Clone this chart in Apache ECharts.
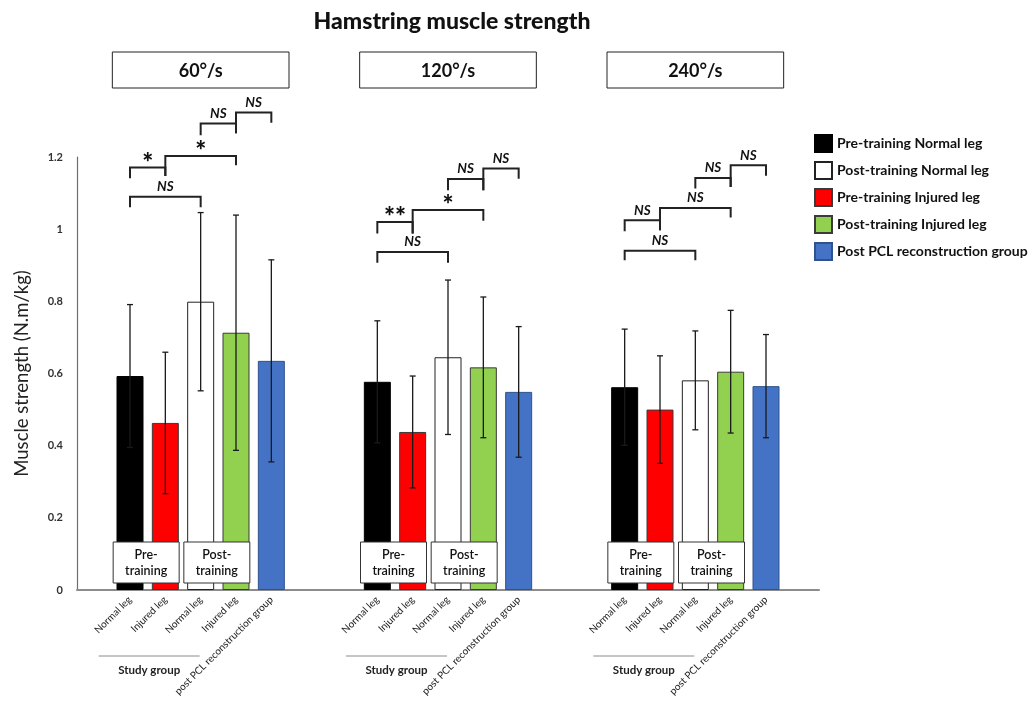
<!DOCTYPE html>
<html><head><meta charset="utf-8">
<script src="https://cdn.jsdelivr.net/npm/echarts@6/dist/echarts.min.js"></script>
<style>html,body{margin:0;padding:0;background:#fff}#c{width:1035px;height:704px}</style>
</head><body><div id="c"></div>
<script>
// ---------- data ----------
const chartTitle = 'Hamstring muscle strength';
const speeds = ['60°/s', '120°/s', '240°/s'];
const barLabels = ['Normal leg', 'Injured leg', 'Normal leg', 'Injured leg', 'post PCL reconstruction group'];
const seriesNames = ['Pre-training Normal leg', 'Pre-training Injured leg', 'Post-training Normal leg', 'Post-training Injured leg', 'Post PCL reconstruction group'];
const legendOrder = ['Pre-training Normal leg', 'Post-training Normal leg', 'Pre-training Injured leg', 'Post-training Injured leg', 'Post PCL reconstruction group'];
const preNormal = [0.593, 0.577, 0.562];
const preNormalSD = [0.198, 0.169, 0.161];
const preInjured = [0.463, 0.438, 0.500];
const preInjuredSD = [0.196, 0.155, 0.149];
const postNormal = [0.799, 0.645, 0.581];
const postNormalSD = [0.247, 0.214, 0.137];
const postInjured = [0.713, 0.617, 0.605];
const postInjuredSD = [0.326, 0.195, 0.170];
const pclGroup = [0.635, 0.549, 0.565];
const pclGroupSD = [0.280, 0.181, 0.143];
const yMin = 0, yMax = 1.2, yStep = 0.2;
const phaseLabels = ['Pre-\ntraining', 'Post-\ntraining'];
const studyGroupLabel = 'Study group';
const yAxisTitle = 'Muscle strength (N.m/kg)';
// significance brackets: [speed group, from bar, to bar, top, from-leg bottom, to-leg bottom, label]
const sigBrackets = [
  [0, 0, 2, 1.090, 1.061, 1.061, 'NS'],
  [0, 0, 1, 1.171, 1.141, 1.147, '*'],
  [0, 1, 3, 1.203, 1.147, 1.177, '*'],
  [0, 2, 3, 1.293, 1.260, 1.266, 'NS'],
  [0, 3, 4, 1.323, 1.266, 1.295, 'NS'],
  [1, 0, 2, 0.937, 0.907, 0.907, 'NS'],
  [1, 0, 1, 1.020, 0.988, 0.988, '**'],
  [1, 1, 3, 1.053, 0.988, 1.023, '*'],
  [1, 2, 3, 1.139, 1.108, 1.108, 'NS'],
  [1, 3, 4, 1.168, 1.108, 1.140, 'NS'],
  [2, 0, 2, 0.940, 0.914, 0.914, 'NS'],
  [2, 0, 1, 1.025, 0.994, 0.997, 'NS'],
  [2, 1, 3, 1.059, 0.997, 1.032, 'NS'],
  [2, 2, 3, 1.142, 1.113, 1.117, 'NS'],
  [2, 3, 4, 1.177, 1.117, 1.148, 'NS']
];

// ---------- build ----------
const FONT = 'Lato, "Open Sans", sans-serif';
const slotsPerGroup = 7;
const slot = (g, b) => g * slotsPerGroup + 1 + b;
const categories = [];
speeds.forEach(() => {
  categories.push('');
  barLabels.forEach(l => categories.push(l));
  categories.push('');
});
const means = [preNormal, preInjured, postNormal, postInjured, pclGroup];
const sds = [preNormalSD, preInjuredSD, postNormalSD, postInjuredSD, pclGroupSD];
const fills = ['#000000', '#FF0000', '#FFFFFF', '#92D050', '#4472C4'];
const borders = ['#000000', '#3a3a3a', '#222222', '#3a3a3a', '#2F528F'];

const barSeries = seriesNames.map((name, b) => {
  const data = categories.map(() => '-');
  speeds.forEach((s, g) => { data[slot(g, b)] = means[b][g]; });
  return {
    name, type: 'bar', data, barWidth: 27, barGap: '-100%',
    itemStyle: { color: fills[b], borderColor: borders[b], borderWidth: 1 },
    z: 2, animation: false
  };
});
const errData = [];
means.forEach((arr, b) => arr.forEach((m, g) => {
  errData.push([slot(g, b), m - sds[b][g], m + sds[b][g]]);
}));
const errSeries = {
  type: 'custom', name: 'err', z: 5, animation: false, silent: true,
  encode: { x: 0, y: [1, 2] },
  data: errData,
  renderItem(params, api) {
    const x = api.value(0);
    const hi = api.coord([x, api.value(2)]);
    const lo = api.coord([x, api.value(1)]);
    const c = 3, st = { stroke: '#1a1a1a', lineWidth: 1.3 };
    return { type: 'group', children: [
      { type: 'line', shape: { x1: hi[0], y1: hi[1], x2: lo[0], y2: lo[1] }, style: st },
      { type: 'line', shape: { x1: hi[0] - c, y1: hi[1], x2: hi[0] + c, y2: hi[1] }, style: st },
      { type: 'line', shape: { x1: lo[0] - c, y1: lo[1], x2: lo[0] + c, y2: lo[1] }, style: st }
    ]};
  }
};
const brData = sigBrackets.map(r => [slot(r[0], r[1]), slot(r[0], r[2]), r[3], r[4], r[5]]);
const brSeries = {
  type: 'custom', name: 'sig', z: 6, animation: false, silent: true, clip: false,
  encode: { x: [0, 1], y: [2, 3, 4] },
  data: brData,
  renderItem(params, api) {
    const a = api.value(0), b = api.value(1);
    const pA = api.coord([a, api.value(3)]);
    const tA = api.coord([a, api.value(2)]);
    const tB = api.coord([b, api.value(2)]);
    const pB = api.coord([b, api.value(4)]);
    const lab = sigBrackets[params.dataIndex][6];
    const star = lab.indexOf('*') >= 0;
    return { type: 'group', children: [
      { type: 'polyline', shape: { points: [pA, tA, tB, pB] },
        style: { stroke: '#222', lineWidth: 2, fill: null } },
      { type: 'text', x: (tA[0] + tB[0]) / 2, y: tA[1] - (star ? 4 : 10),
        style: { text: lab, fill: '#111', align: 'center', verticalAlign: 'middle',
          font: star ? '900 26px ' + FONT : 'italic bold 13.5px ' + FONT } }
    ]};
  }
};

const chart = echarts.init(document.getElementById('c'), null, { renderer: 'canvas' });
chart.setOption({
  animation: false,
  backgroundColor: '#fff',
  textStyle: { fontFamily: FONT },
  grid: { left: 77, right: 216, top: 157, bottom: 114, containLabel: false },
  legend: {
    data: legendOrder, orient: 'vertical', left: 809, top: 129,
    itemWidth: 17, itemHeight: 17, itemGap: 8, icon: 'rect',
    textStyle: { fontFamily: FONT, fontWeight: 'bold', fontSize: 14, color: '#111' },
    selectedMode: false
  },
  xAxis: {
    type: 'category', data: categories, boundaryGap: true,
    axisLine: { lineStyle: { color: '#8c8c8c', width: 2 } },
    axisTick: { show: false },
    axisLabel: { interval: 0, rotate: 45, fontSize: 10, color: '#222', margin: 8, fontFamily: FONT }
  },
  yAxis: {
    type: 'value', min: yMin, max: yMax, interval: yStep,
    name: yAxisTitle, nameLocation: 'middle', nameGap: 45,
    nameTextStyle: { fontSize: 18.5, color: '#222', fontFamily: FONT },
    axisLine: { show: true, lineStyle: { color: '#6e6e6e', width: 1.2 } },
    axisTick: { show: false },
    splitLine: { show: false },
    axisLabel: { fontSize: 11, fontWeight: 'bold', color: '#333', margin: 14, fontFamily: FONT }
  },
  series: [...barSeries, errSeries, brSeries]
});

// ---------- annotations positioned through the axes ----------
const px = (x, y) => chart.convertToPixel({ gridIndex: 0 }, [x, y]);
const zeroY = px(0, 0)[1];
const slotW = px(1, 0)[0] - px(0, 0)[0];
const graphics = [];
graphics.push({ type: 'text', x: 452, y: 22, style: { text: chartTitle, font: '900 23px ' + FONT, fill: '#111', align: 'center', verticalAlign: 'middle' } });
speeds.forEach((s, g) => {
  const cx = px(slot(g, 2), 0)[0];
  const w = slotW * 5;
  graphics.push({ type: 'rect', shape: { x: cx - w / 2, y: 52, width: w, height: 36 }, style: { fill: '#fff', stroke: '#222', lineWidth: 1 } });
  graphics.push({ type: 'text', x: cx, y: 71, style: { text: s, font: 'bold 18px ' + FONT, fill: '#111', align: 'center', verticalAlign: 'middle' } });
  // pre / post boxes
  [[0, 1], [2, 3]].forEach((pair, k) => {
    const x1 = px(slot(g, pair[0]), 0)[0], x2 = px(slot(g, pair[1]), 0)[0];
    const mid = (x1 + x2) / 2 - 1.5;
    graphics.push({ type: 'rect', z: 10, shape: { x: mid - 33, y: zeroY - 48, width: 66, height: 41 }, style: { fill: '#fff', stroke: '#333', lineWidth: 1 } });
    graphics.push({ type: 'text', z: 11, x: mid, y: zeroY - 27.5, style: { text: phaseLabels[k], font: '600 12.5px ' + FONT, lineHeight: 16, fill: '#111', align: 'center', verticalAlign: 'middle' } });
  });
  // study group line
  const sx1 = px(g * slotsPerGroup, 0)[0] + 4, sx2 = px(slot(g, 2), 0)[0] - 1;
  graphics.push({ type: 'line', shape: { x1: sx1, y1: 656, x2: sx2, y2: 656 }, style: { stroke: '#8c8c8c', lineWidth: 1 } });
  graphics.push({ type: 'text', x: (sx1 + sx2) / 2, y: 670, style: { text: studyGroupLabel, font: 'bold 11.5px ' + FONT, fill: '#222', align: 'center', verticalAlign: 'middle' } });
});
chart.setOption({ graphic: graphics });
</script></body></html>
